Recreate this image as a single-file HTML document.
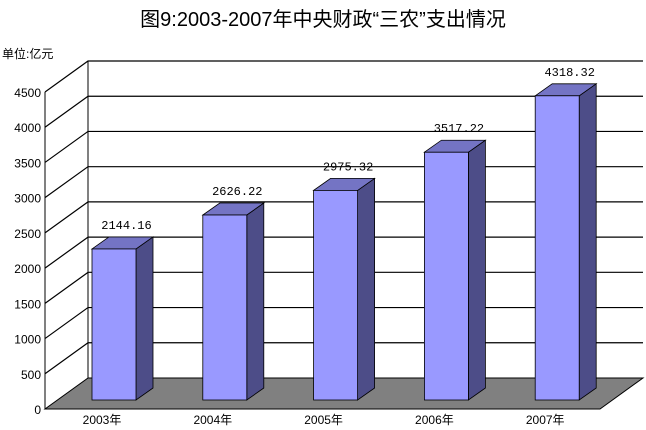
<!DOCTYPE html>
<html><head><meta charset="utf-8"><style>
html,body{margin:0;padding:0;background:#fff;}
svg{display:block;}
</style></head><body>
<svg id="chart" width="646" height="430" viewBox="0 0 646 430" xmlns="http://www.w3.org/2000/svg">
<text x="323" y="26" text-anchor="middle" font-family="'Liberation Sans','Noto Sans CJK SC',sans-serif" font-size="20" fill="#000">图9:2003-2007年中央财政“三农”支出情况</text>
<text x="2" y="58" font-family="'Liberation Sans','Noto Sans CJK SC',sans-serif" font-size="12" fill="#000">单位:亿元</text>
<g id="grid"></g>
<g id="bars"></g>
<g id="labels"></g>
</svg>
<script>
const categories = ["2003年","2004年","2005年","2006年","2007年"];
const values = [2144.16, 2626.22, 2975.32, 3517.22, 4318.32];
const ticks = [0,500,1000,1500,2000,2500,3000,3500,4000,4500];

const NS = "http://www.w3.org/2000/svg";
const x0 = 45, y0 = 409, maxV = 4500, yTop = 92;
const DX = 43, DY = -31;
const floorRight = 600;
const y = v => y0 - (v / maxV) * (y0 - yTop);
const bandStart = 92, bandStep = 110.8, barW = 44;
const xBar = i => bandStart + i * bandStep;
const bdx = 17, bdy = -12, bOffX = 9, bOffY = -9;

function mk(tag, attrs, parent) {
  const e = document.createElementNS(NS, tag);
  for (const k in attrs) e.setAttribute(k, attrs[k]);
  parent.appendChild(e);
  return e;
}
const grid = document.getElementById('grid');
const bars = document.getElementById('bars');
const labels = document.getElementById('labels');

// floor
const floor = mk('polygon', {points: `${x0},${y0} ${floorRight},${y0} ${floorRight+DX},${y0+DY} ${x0+DX},${y0+DY}`, fill:'#808080', stroke:'#000', 'stroke-width':1}, grid);



// gridlines and ticks
ticks.forEach(t => {
  const yy = y(t);
  if (t > 0) {
    const g = mk('polyline', {points: `${x0},${yy} ${x0+DX},${yy+DY} ${floorRight+DX},${yy+DY}`, fill:'none', stroke:'#000', 'stroke-width':1.2}, grid);
    
    
  }
  const tx = mk('text', {x: x0-4, y: yy+5, 'text-anchor':'end', 'font-family':"'Liberation Sans',sans-serif", 'font-size':12}, labels);
  tx.textContent = t;
  
  
});
const ax = mk('line', {x1:x0, y1:y0, x2:x0, y2:yTop, stroke:'#000', 'stroke-width':1}, grid);


const bw = mk('line', {x1:x0+DX, y1:y0+DY, x2:x0+DX, y2:yTop+DY, stroke:'#000', 'stroke-width':1}, grid);



values.forEach((v, i) => {
  const L = xBar(i), R = L + barW;
  const bot = y(0) + bOffY, top = y(v) + bOffY;
  const g = mk('g', {}, bars);
  
  
  mk('polygon', {points:`${R},${top} ${R+bdx},${top+bdy} ${R+bdx},${bot+bdy} ${R},${bot}`, fill:'#4d4d88', stroke:'#000', 'stroke-width':0.8}, g);
  mk('polygon', {points:`${L},${top} ${R},${top} ${R+bdx},${top+bdy} ${L+bdx},${top+bdy}`, fill:'#7474c4', stroke:'#000', 'stroke-width':0.8}, g);
  mk('rect', {x:L, y:top, width:barW, height:bot-top, fill:'#9999ff', stroke:'#000', 'stroke-width':0.8}, g);
  const vl = mk('text', {x:L+bdx/2+barW/2+4, y:top+bdy-8, 'text-anchor':'middle', 'font-family':"'Liberation Mono',monospace", 'font-size':12}, labels);
  vl.textContent = v.toFixed(2);
  
  
  const cl = mk('text', {x:L+10, y:424, 'text-anchor':'middle', 'font-family':"'Liberation Sans','Noto Sans CJK SC',sans-serif", 'font-size':12}, labels);
  cl.textContent = categories[i];
  
  
});
</script>
</body></html>
